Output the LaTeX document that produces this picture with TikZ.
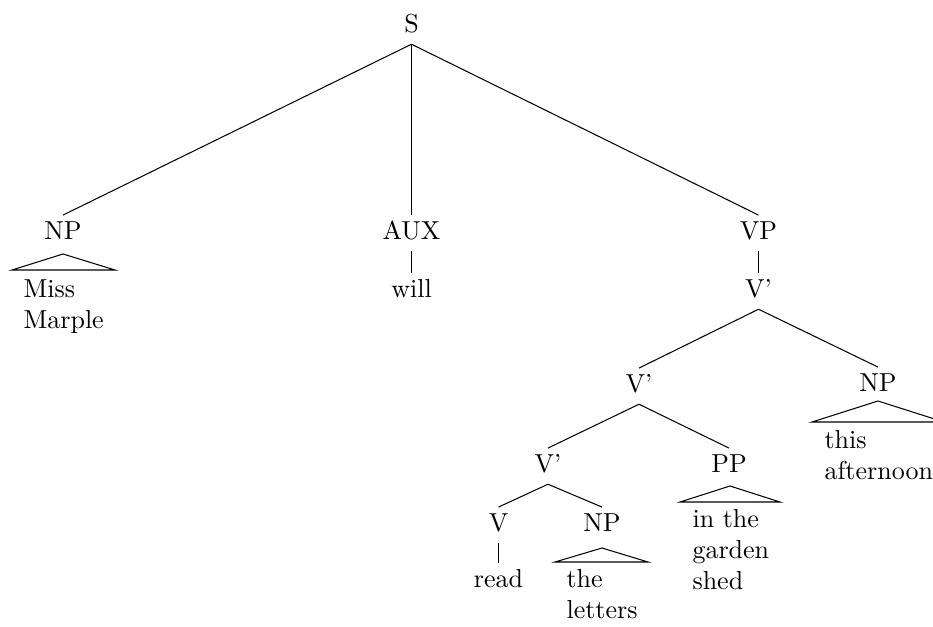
\documentclass[tikz,border=0pt]{standalone}
\usepackage{tikz}
\usepackage{amsmath}

\begin{document}
\begin{tikzpicture}[x=0.3846pt,y=-0.3846pt,
                    lbl/.style={anchor=base,inner sep=2pt,text height=7pt,text depth=2.5pt},
                    leaf/.style={anchor=north west,inner sep=0pt,align=left}]
                    \useasboundingbox (0,0) rectangle (933,626);

                    \node [lbl] (s) at (411.5,32) {S};
                    \node [lbl] (np1) at (63,239) {NP};
                    \node [lbl] (aux) at (411.5,239) {AUX};
                    \node [lbl] (vp) at (758.5,239) {VP};
                    \node [lbl] (will) at (411.5,297) {will};
                    \node [lbl] (vbar1) at (758.5,297) {V'};
                    \node [lbl] (vbar2) at (639,392) {V'};
                    \node [lbl] (np2) at (878,391) {NP};
                    \node [lbl] (vbar3) at (548,472) {V'};
                    \node [lbl] (pp) at (729,472) {PP};
                    \node [lbl] (v) at (498.5,531) {V};
                    \node [lbl] (np3) at (602,531) {NP};
                    \node [lbl] (read) at (498.5,587) {read};

                    \draw (s.south) -- (np1.north);
                    \draw (s.south) -- (aux.north);
                    \draw (s.south) -- (vp.north);
                    \draw (aux.south) -- (will.north);
                    \draw (vp.south) -- (vbar1.north);
                    \draw (vbar1.south) -- (vbar2.north);
                    \draw (vbar1.south) -- (np2.north);
                    \draw (vbar2.south) -- (vbar3.north);
                    \draw (vbar2.south) -- (pp.north);
                    \draw (vbar3.south) -- (v.north);
                    \draw (vbar3.south) -- (np3.north);
                    \draw (v.south) -- (read.north);

                    \draw (63,254) -- (12,270) -- (115,270) -- cycle;
                    \draw (878,401) -- (812,422) -- (944,422) -- cycle;
                    \draw (730,486) -- (680,502) -- (780,502) -- cycle;
                    \draw (602,548) -- (555,562) -- (648,562) -- cycle;

                    \node [leaf] (marple) at (23,279) {Miss\\Marple};
                    \node [leaf] (afternoon) at (824,430) {this\\afternoon};
                    \node [leaf] (shed) at (692,509) {in the\\garden\\shed};
                    \node [leaf] (letters) at (566,569) {the\\letters};
                \end{tikzpicture}
\end{document}
